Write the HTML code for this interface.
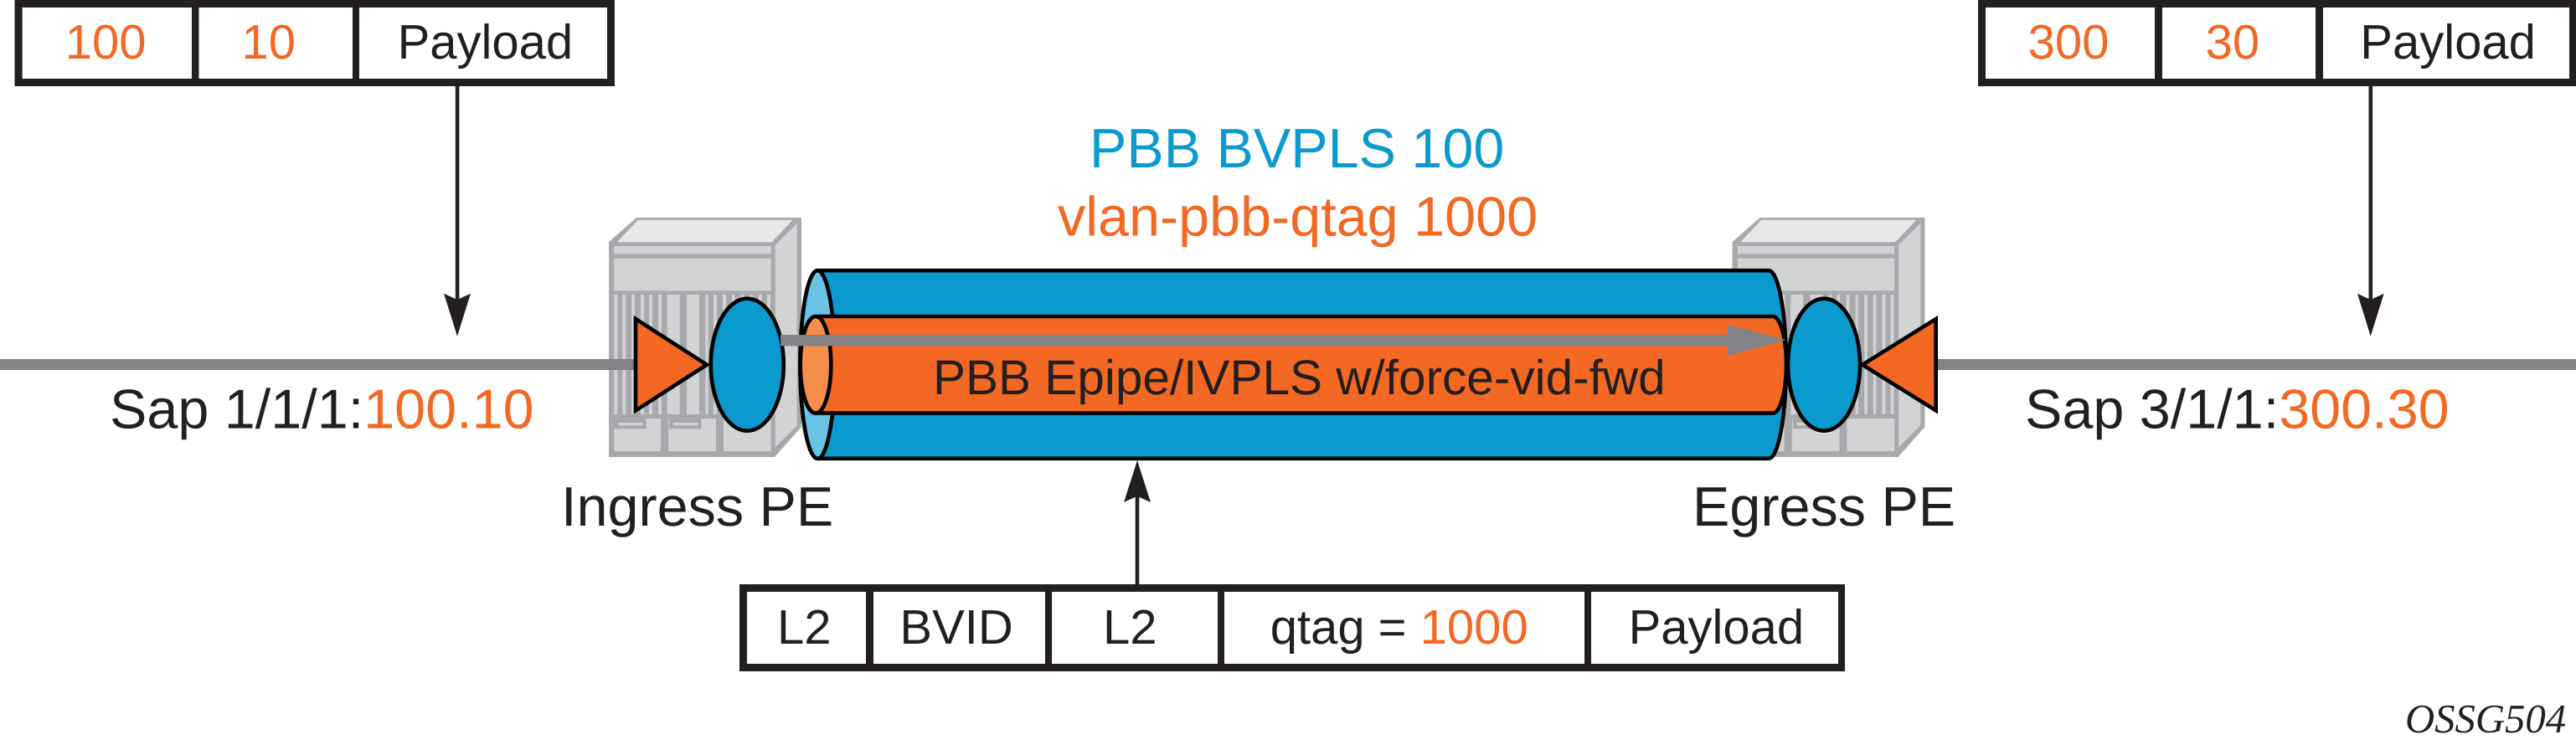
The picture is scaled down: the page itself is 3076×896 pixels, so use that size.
<!DOCTYPE html>
<html>
<head>
<meta charset="utf-8">
<style>
html,body{margin:0;padding:0;background:#fff;width:3076px;height:896px;overflow:hidden}
svg{display:block}
text{font-family:"Liberation Sans",sans-serif;fill:#231f20;text-rendering:geometricPrecision}
.o{fill:#f36823}
.s58{font-size:58px}
.s66{font-size:66.5px}
</style>
</head>
<body>
<svg xmlns="http://www.w3.org/2000/svg" width="3076" height="896" viewBox="0 0 3076 896">
<defs>
<g id="dev">
<path d="M727,289 L760,260 L957,260 L957,510 L925,546 L727,546 Z" fill="#a7a9ac"/>
<path d="M736.7,289.3 L761.7,262.7 L946.7,262.7 L921.7,289.3 Z" fill="#e6e7e8"/>
<path d="M925.7,292.7 L951.7,266.7 L951.7,508.3 L925.7,534.3 Z" fill="#d1d3d4"/>
<g fill="#d1d3d4">
<rect x="733.3" y="294" width="187.4" height="9.3"/>
<rect x="733.3" y="308.7" width="187.4" height="38.6"/>
<rect x="733.3" y="352" width="4" height="143"/>
<rect x="743.3" y="352" width="4" height="143"/>
<rect x="754" y="352" width="4" height="143"/>
<rect x="765" y="352" width="4" height="143"/>
<rect x="775" y="352" width="4" height="143"/>
<rect x="786" y="352" width="4" height="143"/>
<rect x="796.7" y="352" width="15" height="143"/>
<rect x="820" y="352" width="15" height="143"/>
<rect x="842.3" y="352" width="3.5" height="143"/>
<rect x="852" y="352" width="4" height="143"/>
<rect x="863" y="352" width="4" height="143"/>
<rect x="874" y="352" width="3.5" height="143"/>
<rect x="884.7" y="352" width="3.6" height="143"/>
<rect x="895.3" y="352" width="3.5" height="143"/>
<rect x="906" y="352" width="4" height="143"/>
<rect x="916" y="352" width="4" height="143"/>
<rect x="733.3" y="500" width="55.7" height="39"/>
<rect x="798.3" y="500" width="56.7" height="39"/>
<rect x="864" y="500" width="56.7" height="39"/>
</g>
<rect x="733.3" y="500" width="38.4" height="12.3" fill="#a7a9ac"/>
<rect x="738.3" y="505" width="29" height="3.3" fill="#d1d3d4"/>
<rect x="799.3" y="500" width="38" height="12.3" fill="#a7a9ac"/>
<rect x="804" y="505" width="29.3" height="3.3" fill="#d1d3d4"/>
</g>
</defs>

<!-- devices -->
<use href="#dev"/>
<use href="#dev" transform="translate(1341.5,0)"/>

<!-- lines -->
<rect x="0" y="429" width="759" height="13" fill="#808285"/>
<rect x="2310" y="429" width="766" height="13" fill="#808285"/>

<!-- outer cylinder -->
<path d="M976.3,323.2 L2112,323.2 A20.8,112.3 0 0 1 2112,547.8 L976.3,547.8 A20.8,112.3 0 0 1 976.3,323.2 Z" fill="#0b9acd" stroke="#000" stroke-width="4.6"/>
<ellipse cx="976.3" cy="435.5" rx="20.8" ry="112.3" fill="#6ac3e4" stroke="#000" stroke-width="4.6"/>

<!-- inner cylinder -->
<path d="M974,378 L2117,378 A16,57.8 0 0 1 2117,493.6 L974,493.6 A18.3,57.8 0 0 1 974,378 Z" fill="#f36823" stroke="#000" stroke-width="4.6"/>
<ellipse cx="974" cy="435.8" rx="18.3" ry="57.8" fill="#f68e4b" stroke="#000" stroke-width="4.6"/>

<!-- ingress / egress ellipses and triangles -->
<ellipse cx="892.3" cy="435.7" rx="43.5" ry="79" fill="#0b9acd" stroke="#000" stroke-width="4.6"/>
<ellipse cx="2178" cy="435.7" rx="43" ry="79" fill="#0b9acd" stroke="#000" stroke-width="4.6"/>
<polygon points="759,381 759,490.5 844,435.7" fill="#f36823" stroke="#000" stroke-width="4.6" stroke-miterlimit="10"/>
<polygon points="2311.7,381 2311.7,490.5 2224,435.7" fill="#f36823" stroke="#000" stroke-width="4.6" stroke-miterlimit="10"/>

<!-- gray arrow -->
<rect x="932" y="400" width="1131" height="13.3" fill="#808285"/>
<polygon points="2063,387.7 2132.5,406 2063,425" fill="#808285"/>

<!-- top left frame -->
<rect x="17.5" y="0" width="716.5" height="103" fill="#231f20"/>
<rect x="26.6" y="9" width="202.4" height="85" fill="#fff"/>
<rect x="237.5" y="9" width="183.5" height="85" fill="#fff"/>
<rect x="429" y="9" width="296" height="85" fill="#fff"/>
<text class="s58 o" x="77.7" y="70">100</text>
<text class="s58 o" x="288.5" y="70">10</text>
<text class="s58" x="474.6" y="70">Payload</text>

<!-- top right frame -->
<rect x="2362" y="0" width="714" height="103" fill="#231f20"/>
<rect x="2371" y="9" width="202" height="85" fill="#fff"/>
<rect x="2582" y="9" width="183" height="85" fill="#fff"/>
<rect x="2774" y="9" width="294" height="85" fill="#fff"/>
<text class="s58 o" x="2421.6" y="70">300</text>
<text class="s58 o" x="2633.6" y="70">30</text>
<text class="s58" x="2818.3" y="70">Payload</text>

<!-- bottom frame -->
<rect x="883" y="698" width="1320" height="104" fill="#231f20"/>
<rect x="892" y="707" width="142" height="86" fill="#fff"/>
<rect x="1043" y="707" width="205" height="86" fill="#fff"/>
<rect x="1256" y="707" width="198" height="86" fill="#fff"/>
<rect x="1462" y="707" width="430" height="86" fill="#fff"/>
<rect x="1900" y="707" width="295" height="86" fill="#fff"/>
<text class="s58" x="928" y="769">L2</text>
<text class="s58" x="1074.4" y="769">BVID</text>
<text class="s58" x="1317" y="769">L2</text>
<text class="s58" x="1516.7" y="769">qtag = <tspan class="o">1000</tspan></text>
<text class="s58" x="1944.6" y="769">Payload</text>

<!-- black arrows -->
<rect x="543.8" y="103" width="4.6" height="256" fill="#231f20"/>
<polygon points="546,401.7 530,350.7 546,358 562,350.7" fill="#231f20"/>
<rect x="2828.5" y="103" width="4.6" height="256" fill="#231f20"/>
<polygon points="2830.7,401.7 2815,350.7 2830.7,358 2846.7,350.7" fill="#231f20"/>
<rect x="1355.7" y="592" width="4.6" height="106" fill="#231f20"/>
<polygon points="1358,550 1342,600 1358,592.7 1374,600" fill="#231f20"/>

<!-- labels -->
<text class="s66" x="1301" y="200" style="fill:#0b9acd">PBB BVPLS 100</text>
<text class="s66 o" x="1263" y="281.7">vlan-pbb-qtag 1000</text>
<text x="1114" y="471" style="font-size:58.5px">PBB Epipe/IVPLS w/force-vid-fwd</text>
<text class="s66" x="131" y="511.7">Sap 1/1/1:<tspan class="o">100.10</tspan></text>
<text class="s66" x="2418" y="511.7">Sap 3/1/1:<tspan class="o">300.30</tspan></text>
<text class="s66" x="670" y="628">Ingress PE</text>
<text class="s66" x="2021" y="628">Egress PE</text>
<text x="2872" y="875" style="font-family:'Liberation Serif',serif;font-style:italic;font-size:48.7px">OSSG504</text>
</svg>
</body>
</html>
